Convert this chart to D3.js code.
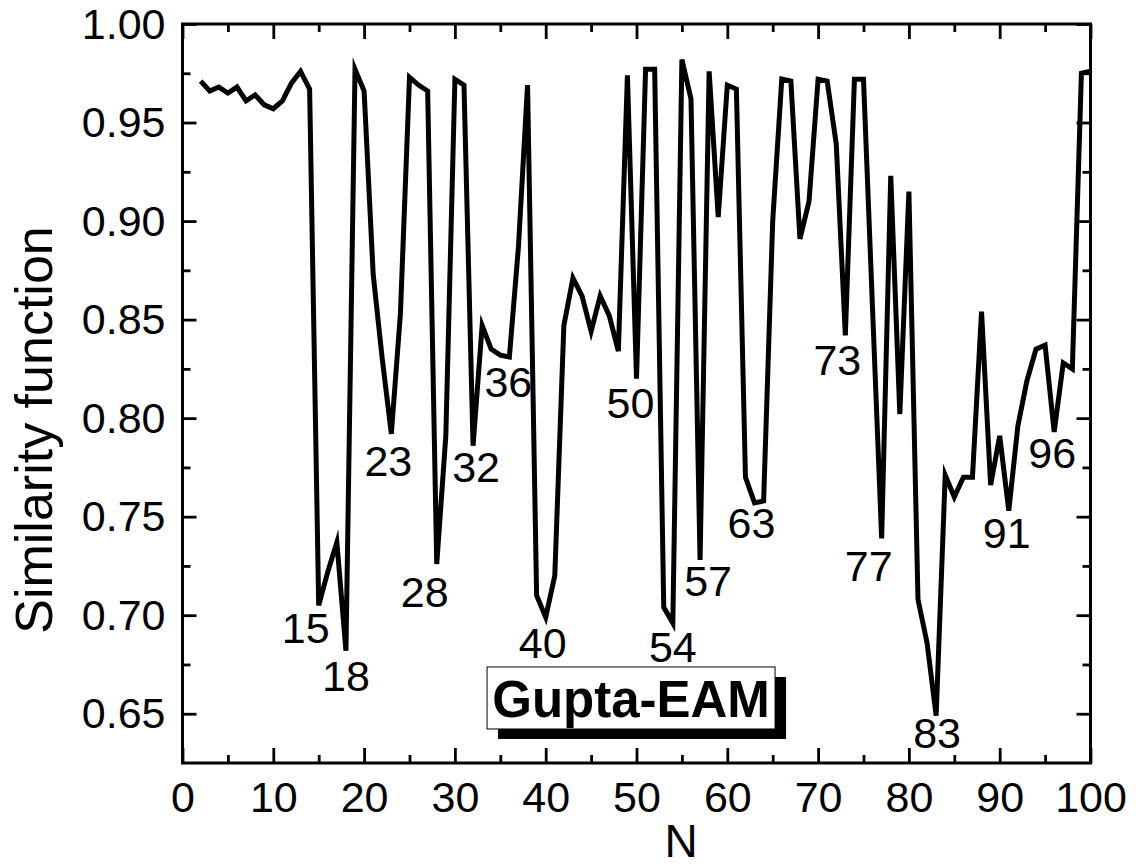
<!DOCTYPE html>
<html>
<head>
<meta charset="utf-8">
<script src="https://cdn.jsdelivr.net/npm/d3@7"></script>
<style>
  body { margin: 0; background: #fff; }
  svg text { font-family: "Liberation Sans", Arial, sans-serif; fill: #000; }
</style>
</head>
<body>
<script>
// cluster size N = 2..100
var sizes = d3.range(2, 101);
var similarity = [
          0.971, 0.966, 0.968, 0.965, 0.968, 0.961, 0.964, 0.959, 0.957, // 2-10
  0.961, 0.970, 0.976, 0.967, 0.705, 0.722, 0.737, 0.682, 0.977, 0.966, // 11-20
  0.873, 0.830, 0.792, 0.853, 0.973, 0.969, 0.966, 0.726, 0.791, 0.972, // 21-30
  0.969, 0.786, 0.847, 0.835, 0.832, 0.831, 0.887, 0.969, 0.710, 0.699, // 31-40
  0.720, 0.847, 0.871, 0.862, 0.844, 0.862, 0.852, 0.834, 0.974, 0.820, // 41-50
  0.977, 0.977, 0.704, 0.696, 0.982, 0.962, 0.728, 0.976, 0.902, 0.969, // 51-60
  0.967, 0.770, 0.757, 0.758, 0.900, 0.972, 0.971, 0.891, 0.910, 0.972, // 61-70
  0.971, 0.939, 0.842, 0.972, 0.972, 0.855, 0.739, 0.923, 0.802, 0.915, // 71-80
  0.708, 0.686, 0.649, 0.771, 0.760, 0.770, 0.770, 0.854, 0.766, 0.791, // 81-90
  0.753, 0.796, 0.819, 0.835, 0.837, 0.793, 0.828, 0.825, 0.975, 0.976  // 91-100
];
var dipSizes = [15, 18, 23, 28, 32, 36, 40, 50, 54, 57, 63, 73, 77, 83, 91, 96];
var xTickValues = d3.range(0, 101, 10);
var yTickValues = [0.65, 0.70, 0.75, 0.80, 0.85, 0.90, 0.95, 1.00];
var panelTitle = "Gupta-EAM";

// label offsets from the dip point (layout only)
var dipOffsets = {
  15: [-13, 38], 18: [0, 40], 23: [-3, 42], 28: [-12, 43], 32: [3, 36],
  36: [-1, 40], 40: [-3, 41], 50: [-6, 39], 54: [0, 39], 57: [8, 36],
  63: [-3, 35], 73: [-8, 40], 77: [-13, 43], 83: [1, 32], 91: [-2, 37], 96: [-2, 36]
};

var W = 1136, H = 868;
var plotL = 182.5, plotR = 1090.5, plotT = 24, plotB = 763;

var svg = d3.select("body").append("svg").attr("width", W).attr("height", H);

var x = d3.scaleLinear().domain([0, 100]).range([plotL, plotR]);
var y = d3.scaleLinear().domain([0.625, 1.0]).range([plotB, plotT]);

var points = sizes.map(function (n, i) { return { n: n, v: similarity[i] }; });

// minor ticks
var xMinor = d3.range(5, 100, 10);
var yMinor = d3.range(0, 7).map(function (i) { return 0.675 + i * 0.05; });

function styleAxis(g) {
  g.select(".domain").remove();
  g.selectAll("line").attr("stroke", "#000").attr("stroke-width", 2.8);
}

// bottom
svg.append("g").attr("transform", "translate(0," + plotB + ")")
  .call(d3.axisBottom(x).tickValues(xTickValues).tickSize(-15).tickFormat(d3.format("d")))
  .call(styleAxis)
  .call(function (g) {
    g.selectAll("text").attr("y", 49).attr("dy", 0).attr("font-size", 43);
  });
svg.append("g").attr("transform", "translate(0," + plotB + ")")
  .call(d3.axisBottom(x).tickValues(xMinor).tickSize(-8).tickFormat(""))
  .call(styleAxis);
// top
svg.append("g").attr("transform", "translate(0," + plotT + ")")
  .call(d3.axisTop(x).tickValues(xTickValues).tickSize(-15).tickFormat(""))
  .call(styleAxis);
svg.append("g").attr("transform", "translate(0," + plotT + ")")
  .call(d3.axisTop(x).tickValues(xMinor).tickSize(-8).tickFormat(""))
  .call(styleAxis);
// left
svg.append("g").attr("transform", "translate(" + plotL + ",0)")
  .call(d3.axisLeft(y).tickValues(yTickValues).tickSize(-14).tickFormat(d3.format(".2f")))
  .call(styleAxis)
  .call(function (g) {
    g.selectAll("text").attr("x", -17).attr("dy", "0.33em").attr("font-size", 43)
      .attr("text-anchor", "end");
  });
svg.append("g").attr("transform", "translate(" + plotL + ",0)")
  .call(d3.axisLeft(y).tickValues(yMinor).tickSize(-8).tickFormat(""))
  .call(styleAxis);
// right
svg.append("g").attr("transform", "translate(" + plotR + ",0)")
  .call(d3.axisRight(y).tickValues(yTickValues).tickSize(-14).tickFormat(""))
  .call(styleAxis);
svg.append("g").attr("transform", "translate(" + plotR + ",0)")
  .call(d3.axisRight(y).tickValues(yMinor).tickSize(-8).tickFormat(""))
  .call(styleAxis);

// frame
svg.append("rect")
  .attr("x", plotL).attr("y", plotT)
  .attr("width", plotR - plotL).attr("height", plotB - plotT)
  .attr("fill", "none").attr("stroke", "#000").attr("stroke-width", 3);

// the curve
var line = d3.line().x(function (d) { return x(d.n); }).y(function (d) { return y(d.v); });
svg.append("path")
  .datum(points)
  .attr("d", line)
  .attr("fill", "none")
  .attr("stroke", "#000")
  .attr("stroke-width", 5)
  .attr("stroke-linejoin", "miter")
  .attr("stroke-miterlimit", 6);

// dip labels
svg.selectAll(".dip")
  .data(dipSizes)
  .enter().append("text")
  .attr("class", "dip")
  .attr("x", function (n) { return x(n) + dipOffsets[n][0]; })
  .attr("y", function (n) { return y(similarity[n - 2]) + dipOffsets[n][1]; })
  .attr("text-anchor", "middle")
  .attr("font-size", 43)
  .text(function (n) { return n; });

// panel label with drop shadow
var bx = x(49.4), by = y(0.658), bw = 288, bh = 62;
svg.append("rect")
  .attr("x", bx - bw / 2 + 11).attr("y", by - bh / 2 + 10)
  .attr("width", bw).attr("height", bh).attr("fill", "#000");
svg.append("rect")
  .attr("x", bx - bw / 2).attr("y", by - bh / 2)
  .attr("width", bw).attr("height", bh)
  .attr("fill", "#fff").attr("stroke", "#000").attr("stroke-width", 1);
svg.append("text")
  .attr("x", bx).attr("y", by + 19)
  .attr("text-anchor", "middle")
  .attr("font-size", 51).attr("font-weight", "bold")
  .text(panelTitle);

// axis titles
svg.append("text")
  .attr("x", 681).attr("y", 857)
  .attr("text-anchor", "middle")
  .attr("font-size", 46)
  .text("N");
svg.append("text")
  .attr("transform", "translate(52,430) rotate(-90)")
  .attr("text-anchor", "middle")
  .attr("font-size", 52)
  .text("Similarity function");
</script>
</body>
</html>
